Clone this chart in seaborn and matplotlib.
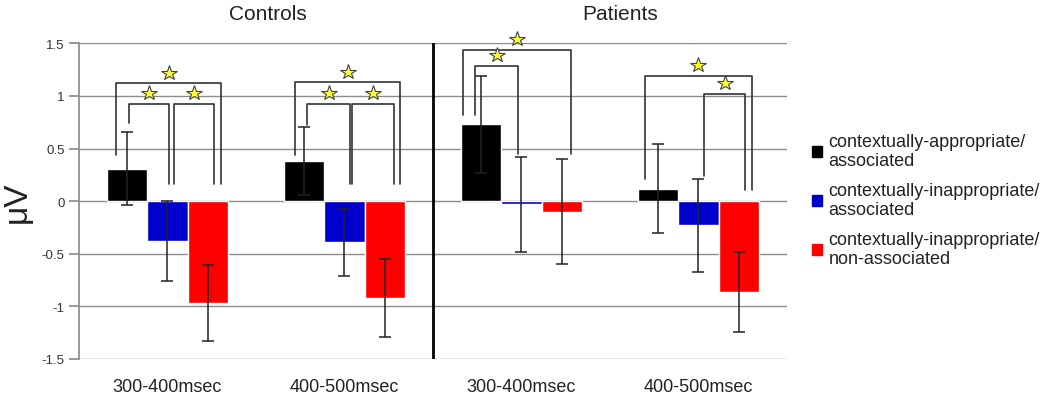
import pandas as pd
import seaborn as sns
import matplotlib.pyplot as plt
from matplotlib.patches import Patch
from matplotlib.transforms import blended_transform_factory

sns.set_theme(style='white')
plt.rcParams['font.family'] = ['Liberation Sans', 'DejaVu Sans']

# data
groups = ['C 300-400', 'C 400-500', 'P 300-400', 'P 400-500']
tick_labels = ['300-400msec', '400-500msec', '300-400msec', '400-500msec']
conditions = ['contextually-appropriate/\nassociated',
              'contextually-inappropriate/\nassociated',
              'contextually-inappropriate/\nnon-associated']
colors = ['#000000', '#0000cc', '#ff0000']

appropriate = [0.31, 0.38, 0.73, 0.12]
inappropriate_assoc = [-0.38, -0.39, -0.03, -0.23]
inappropriate_nonassoc = [-0.97, -0.92, -0.10, -0.86]

err_appropriate = [0.35, 0.32, 0.46, 0.42]
err_inappropriate_assoc = [0.38, 0.32, 0.45, 0.44]
err_inappropriate_nonassoc = [0.36, 0.37, 0.50, 0.38]

# significance brackets: group, x left, x right (offset from group centre), top, left foot, right foot
brackets = [
    (0, -0.29, 0.305, 1.12, 0.44, 0.16),
    (0, -0.22, 0.01, 0.925, 0.74, 0.16),
    (0, 0.035, 0.265, 0.925, 0.16, 0.16),
    (1, -0.28, 0.315, 1.128, 0.44, 0.16),
    (1, -0.21, 0.03, 0.925, 0.72, 0.16),
    (1, 0.04, 0.28, 0.925, 0.16, 0.16),
    (2, -0.33, 0.28, 1.44, 0.82, 0.45),
    (2, -0.26, -0.02, 1.286, 0.82, 0.45),
    (3, -0.30, 0.30, 1.19, 0.215, 0.105),
    (3, 0.03, 0.265, 1.02, 0.24, 0.105),
]

means = [appropriate, inappropriate_assoc, inappropriate_nonassoc]
errs = [err_appropriate, err_inappropriate_assoc, err_inappropriate_nonassoc]
df = pd.DataFrame({
    'group': groups * 3,
    'condition': [c for c in conditions for _ in groups],
    'value': sum(means, []),
})

fig = plt.figure(figsize=(10.5, 4.02), dpi=100)
ax = fig.add_axes([0.0752, 0.1045, 0.6743, 0.7853])

sns.barplot(data=df, x='group', y='value', hue='condition', order=groups,
            hue_order=conditions, palette=colors, width=0.68, gap=0,
            saturation=1, errorbar=None, legend=False, ax=ax, zorder=3)

for cont, e in zip(ax.containers, errs):
    xs = [b.get_x() + b.get_width() / 2 for b in cont]
    ys = [b.get_y() + b.get_height() for b in cont]
    ax.errorbar(xs, ys, yerr=e, fmt='none', ecolor='#222222', elinewidth=1.1,
                capsize=4, capthick=1.1, zorder=4)

# brackets and stars
for g, xl, xr, top, fl, fr in brackets:
    ax.plot([g + xl, g + xl, g + xr, g + xr], [fl, top, top, fr],
            color='#333333', lw=1.2, zorder=5, clip_on=False)
    ax.plot(g + (xl + xr) / 2, top + 0.1, marker='*', markersize=11.5,
            mfc='#ffff33', mec='#444444', mew=0.8, zorder=6, clip_on=False)

ax.axvline(1.5, color='black', lw=2, zorder=5)
ax.set_xlim(-0.5, 3.5)
ax.set_ylim(-1.5, 1.5)
ax.set_yticks([-1.5, -1, -0.5, 0, 0.5, 1, 1.5])
ax.set_yticklabels(['-1.5', '-1', '-0.5', '0', '0.5', '1', '1.5'])
ax.yaxis.grid(True, color='#8c8c8c', lw=1)
ax.set_axisbelow(True)
for s in ['top', 'right', 'bottom']:
    ax.spines[s].set_visible(False)
ax.spines['left'].set_color('#8c8c8c')
ax.tick_params(axis='y', length=7, color='#8c8c8c', labelsize=9.5,
               labelcolor='#333333', left=True)
ax.tick_params(axis='x', length=0, pad=14, labelsize=13, labelcolor='#222222')
ax.set_xticks(range(4))
ax.set_xticklabels(tick_labels)
ax.set_xlabel('')
ax.set_ylabel('μV', fontsize=24, labelpad=6, color='#222222')

tr = blended_transform_factory(ax.transData, ax.transAxes)
ax.text(0.57, 1.095, 'Controls', transform=tr, ha='center', va='center', fontsize=15, color='#222222')
ax.text(2.56, 1.095, 'Patients', transform=tr, ha='center', va='center', fontsize=15, color='#222222')

handles = [Patch(facecolor=c, edgecolor=c) for c in colors]
leg = fig.legend(handles, conditions, loc='center left', bbox_to_anchor=(0.758, 0.5),
                 frameon=False, fontsize=13, handlelength=0.55, handleheight=0.55,
                 handletextpad=0.35, labelspacing=0.72)
for t in leg.get_texts():
    t.set_linespacing(1.15)
    t.set_color('#222222')

plt.savefig('out.png', dpi=100)
